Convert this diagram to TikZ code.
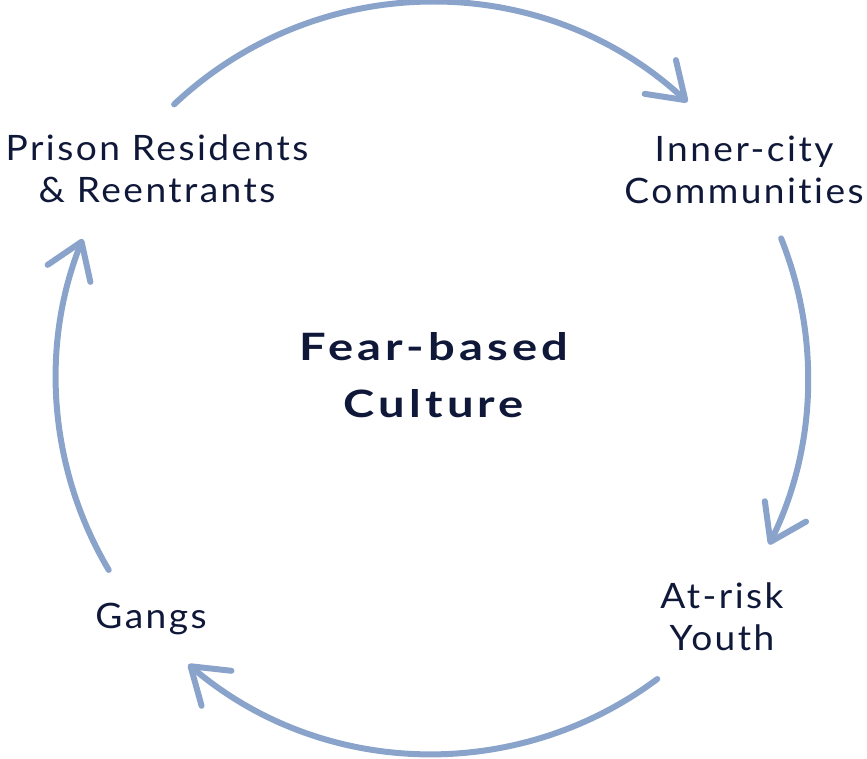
\documentclass[tikz,border=0pt]{standalone}
\usepackage{fontspec}
\setmainfont{Lato}[LetterSpace=7,FakeStretch=1.06,Ligatures=NoCommon]
\newfontfamily\boldlato{Lato}[LetterSpace=11,FakeStretch=1.25,Ligatures=NoCommon,UprightFont=* Bold]
\usetikzlibrary{arrows.meta,calc}
\definecolor{arccol}{HTML}{8AA3CB}
\definecolor{txtcol}{HTML}{0F1838}
\tikzset{
  lbl/.style={inner sep=0pt, align=center, text=txtcol, font=\fontsize{35}{42}\selectfont},
  ctr/.style={inner sep=0pt, align=center, text=txtcol, font=\boldlato\fontsize{37.7}{57}\selectfont},
  cyc/.style={draw=arccol, line width=6pt, line cap=round,
    -{Straight Barb[length=34pt,width=46pt,line width=6pt,round]}}
}
\begin{document}
\begin{tikzpicture}[x=1pt,y=1pt]
\useasboundingbox (0,-759) rectangle (867,0);
\coordinate (C) at (432,-378);
\node[lbl] (prison) at (157,-169) {Prison Residents\\\& Reentrants};
\node[lbl] (inner) at (744,-169.5) {Inner-city\\Communities};
\node[lbl] (youth) at (722,-617) {At-risk\\Youth};
\node[lbl, anchor=base] (gangs) at (151,-628) {Gangs};
\node[ctr] (fear) at (434,-374.7) {Fear-based\\Culture};
\coordinate (s1) at ($(C)+(133.3:376)$);
\coordinate (s2) at ($(C)+(21.8:376)$);
\coordinate (s3) at ($(C)+(-53.2:376)$);
\coordinate (s4) at ($(C)+(-149.3:376)$);
\draw[cyc] (s1) arc[start angle=133.3, end angle=47.2, radius=376];
\draw[cyc] (s2) arc[start angle=21.8, end angle=-26.3, radius=376];
\draw[cyc] (s3) arc[start angle=-53.2, end angle=-130.4, radius=376];
\draw[cyc] (s4) arc[start angle=-149.3, end angle=-201.7, radius=376];
\end{tikzpicture}
\end{document}
